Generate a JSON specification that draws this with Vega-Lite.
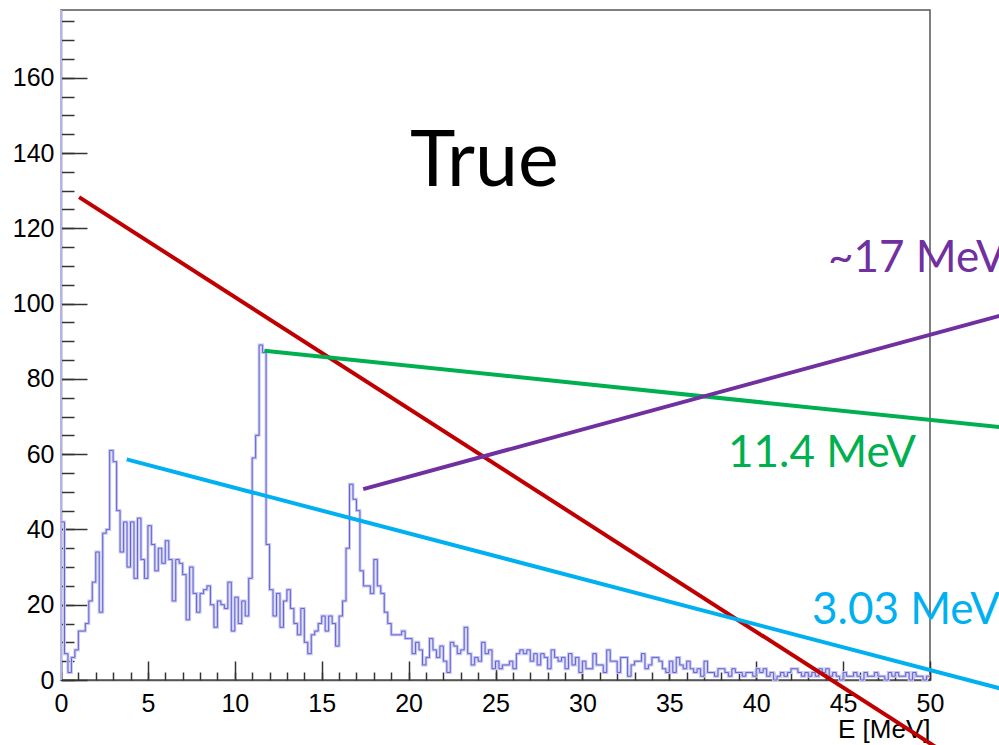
{
  "$schema": "https://vega.github.io/schema/vega-lite/v6.json",
  "autosize": {"type": "none"},
  "width": 869,
  "height": 670,
  "padding": {"left": 61, "top": 10, "right": 69, "bottom": 65},
  "background": "white",
  "config": {
    "view": {"stroke": "#555555", "strokeWidth": 1.5},
    "axis": {"grid": false}
  },
  "datasets": {
    "hist": [
      {"E":0,"n":42},{"E":0.2,"n":7},{"E":0.4,"n":2},{"E":0.6,"n":6},{"E":0.8,"n":8},{"E":1,"n":13},{"E":1.2,"n":13},{"E":1.4,"n":15},{"E":1.6,"n":21},{"E":1.8,"n":26},
      {"E":2,"n":34},{"E":2.2,"n":18},{"E":2.4,"n":39},{"E":2.6,"n":40},{"E":2.8,"n":61},{"E":3,"n":58},{"E":3.2,"n":45},{"E":3.4,"n":34},{"E":3.6,"n":42},{"E":3.8,"n":30},
      {"E":4,"n":42},{"E":4.2,"n":27},{"E":4.4,"n":43},{"E":4.6,"n":32},{"E":4.8,"n":27},{"E":5,"n":41},{"E":5.2,"n":36},{"E":5.4,"n":29},{"E":5.6,"n":35},{"E":5.8,"n":31},
      {"E":6,"n":37},{"E":6.2,"n":32},{"E":6.4,"n":21},{"E":6.6,"n":32},{"E":6.8,"n":31},{"E":7,"n":28},{"E":7.2,"n":16},{"E":7.4,"n":30},{"E":7.6,"n":23},{"E":7.8,"n":18},
      {"E":8,"n":23},{"E":8.2,"n":24},{"E":8.4,"n":25},{"E":8.6,"n":20},{"E":8.8,"n":14},{"E":9,"n":21},{"E":9.2,"n":20},{"E":9.4,"n":19},{"E":9.6,"n":26},{"E":9.8,"n":13},
      {"E":10,"n":22},{"E":10.2,"n":15},{"E":10.4,"n":21},{"E":10.6,"n":17},{"E":10.8,"n":27},{"E":11,"n":59},{"E":11.2,"n":65},{"E":11.4,"n":89},{"E":11.6,"n":87},{"E":11.8,"n":36},
      {"E":12,"n":24},{"E":12.2,"n":17},{"E":12.4,"n":23},{"E":12.6,"n":14},{"E":12.8,"n":21},{"E":13,"n":24},{"E":13.2,"n":19},{"E":13.4,"n":15},{"E":13.6,"n":12},{"E":13.8,"n":19},
      {"E":14,"n":10},{"E":14.2,"n":7},{"E":14.4,"n":12},{"E":14.6,"n":13},{"E":14.8,"n":15},{"E":15,"n":17},{"E":15.2,"n":13},{"E":15.4,"n":17},{"E":15.6,"n":15},{"E":15.8,"n":9},
      {"E":16,"n":17},{"E":16.2,"n":21},{"E":16.4,"n":35},{"E":16.6,"n":52},{"E":16.8,"n":48},{"E":17,"n":45},{"E":17.2,"n":29},{"E":17.4,"n":25},{"E":17.6,"n":25},{"E":17.8,"n":23},
      {"E":18,"n":32},{"E":18.2,"n":25},{"E":18.4,"n":23},{"E":18.6,"n":18},{"E":18.8,"n":15},{"E":19,"n":12},{"E":19.2,"n":12},{"E":19.4,"n":12},{"E":19.6,"n":13},{"E":19.8,"n":11},
      {"E":20,"n":11},{"E":20.2,"n":7},{"E":20.4,"n":10},{"E":20.6,"n":8},{"E":20.8,"n":4},{"E":21,"n":6},{"E":21.2,"n":11},{"E":21.4,"n":8},{"E":21.6,"n":6},{"E":21.8,"n":9},
      {"E":22,"n":5},{"E":22.2,"n":2},{"E":22.4,"n":10},{"E":22.6,"n":9},{"E":22.8,"n":7},{"E":23,"n":8},{"E":23.2,"n":14},{"E":23.4,"n":7},{"E":23.6,"n":4},{"E":23.8,"n":6},
      {"E":24,"n":5},{"E":24.2,"n":10},{"E":24.4,"n":7},{"E":24.6,"n":8},{"E":24.8,"n":3},{"E":25,"n":5},{"E":25.2,"n":3},{"E":25.4,"n":4},{"E":25.6,"n":4},{"E":25.8,"n":5},
      {"E":26,"n":3},{"E":26.2,"n":7},{"E":26.4,"n":8},{"E":26.6,"n":7},{"E":26.8,"n":8},{"E":27,"n":5},{"E":27.2,"n":7},{"E":27.4,"n":4},{"E":27.6,"n":7},{"E":27.8,"n":6},
      {"E":28,"n":3},{"E":28.2,"n":8},{"E":28.4,"n":6},{"E":28.6,"n":5},{"E":28.8,"n":6},{"E":29,"n":3},{"E":29.2,"n":7},{"E":29.4,"n":4},{"E":29.6,"n":6},{"E":29.8,"n":2},
      {"E":30,"n":5},{"E":30.2,"n":3},{"E":30.4,"n":3},{"E":30.6,"n":7},{"E":30.8,"n":4},{"E":31,"n":4},{"E":31.2,"n":2},{"E":31.4,"n":8},{"E":31.6,"n":5},{"E":31.8,"n":5},
      {"E":32,"n":2},{"E":32.2,"n":6},{"E":32.4,"n":6},{"E":32.6,"n":1},{"E":32.8,"n":4},{"E":33,"n":5},{"E":33.2,"n":5},{"E":33.4,"n":7},{"E":33.6,"n":3},{"E":33.8,"n":4},
      {"E":34,"n":6},{"E":34.2,"n":6},{"E":34.4,"n":5},{"E":34.6,"n":3},{"E":34.8,"n":2},{"E":35,"n":5},{"E":35.2,"n":2},{"E":35.4,"n":6},{"E":35.6,"n":4},{"E":35.8,"n":3},
      {"E":36,"n":5},{"E":36.2,"n":3},{"E":36.4,"n":2},{"E":36.6,"n":3},{"E":36.8,"n":1},{"E":37,"n":5},{"E":37.2,"n":2},{"E":37.4,"n":2},{"E":37.6,"n":1},{"E":37.8,"n":3},
      {"E":38,"n":3},{"E":38.2,"n":2},{"E":38.4,"n":1},{"E":38.6,"n":3},{"E":38.8,"n":2},{"E":39,"n":2},{"E":39.2,"n":1},{"E":39.4,"n":2},{"E":39.6,"n":2},{"E":39.8,"n":1},
      {"E":40,"n":3},{"E":40.2,"n":2},{"E":40.4,"n":3},{"E":40.6,"n":1},{"E":40.8,"n":2},{"E":41,"n":0},{"E":41.2,"n":1},{"E":41.4,"n":2},{"E":41.6,"n":1},{"E":41.8,"n":2},
      {"E":42,"n":3},{"E":42.2,"n":3},{"E":42.4,"n":2},{"E":42.6,"n":1},{"E":42.8,"n":2},{"E":43,"n":1},{"E":43.2,"n":2},{"E":43.4,"n":1},{"E":43.6,"n":3},{"E":43.8,"n":2},
      {"E":44,"n":3},{"E":44.2,"n":1},{"E":44.4,"n":2},{"E":44.6,"n":1},{"E":44.8,"n":0},{"E":45,"n":2},{"E":45.2,"n":1},{"E":45.4,"n":1},{"E":45.6,"n":2},{"E":45.8,"n":1},
      {"E":46,"n":0},{"E":46.2,"n":2},{"E":46.4,"n":1},{"E":46.6,"n":1},{"E":46.8,"n":2},{"E":47,"n":1},{"E":47.2,"n":1},{"E":47.4,"n":0},{"E":47.6,"n":2},{"E":47.8,"n":1},
      {"E":48,"n":2},{"E":48.2,"n":1},{"E":48.4,"n":1},{"E":48.6,"n":2},{"E":48.8,"n":0},{"E":49,"n":2},{"E":49.2,"n":1},{"E":49.4,"n":1},{"E":49.6,"n":0},{"E":49.8,"n":1},
      {"E":50,"n":1}
    ],
    "guides": [
      {"peak":"strike","x":1.04,"y":128.3,"x2":50.6,"y2":-18.6},
      {"peak":"11.4 MeV","x":11.7,"y":87.5,"x2":55,"y2":66.7},
      {"peak":"~17 MeV","x":17.39,"y":50.7,"x2":55,"y2":98.0},
      {"peak":"3.03 MeV","x":3.78,"y":58.6,"x2":55,"y2":-3.4}
    ],
    "peakLabels": [
      {"peak":"~17 MeV","x":44.13,"y":108.5},
      {"peak":"11.4 MeV","x":38.38,"y":56.6},
      {"peak":"3.03 MeV","x":43.21,"y":14.8}
    ],
    "heading": [
      {"text":"True","x":20.08,"y":131.2}
    ]
  },
  "resolve": {"axis": {"x": "independent", "y": "independent"}},
  "layer": [
    {
      "data": {"name": "hist"},
      "mark": {"type": "rule", "color": "#b4b4ec", "strokeWidth": 1.2},
      "encoding": {
        "x": {"datum": 0, "type": "quantitative", "scale": {"domain": [0, 50], "nice": false, "zero": false}, "axis": null}
      }
    },
    {
      "data": {"name": "hist"},
      "mark": {"type": "line", "interpolate": "step-after", "color": "#c8c8f2", "strokeWidth": 3},
      "encoding": {
        "x": {"field": "E", "type": "quantitative", "scale": {"domain": [0, 50], "nice": false, "zero": false}, "axis": null},
        "y": {"field": "n", "type": "quantitative", "scale": {"domain": [0, 178], "nice": false}, "axis": null}
      }
    },
    {
      "data": {"name": "hist"},
      "mark": {"type": "line", "interpolate": "step-after", "color": "#6464d2", "strokeWidth": 1},
      "encoding": {
        "x": {
          "field": "E", "type": "quantitative",
          "scale": {"domain": [0, 50], "nice": false, "zero": false},
          "axis": {
            "orient": "bottom",
            "values": [0, 5, 10, 15, 20, 25, 30, 35, 40, 45, 50],
            "tickSize": -19, "tickColor": "#333333", "tickWidth": 1.5,
            "domainColor": "#555555", "domainWidth": 1.5,
            "labelFont": "Liberation Sans", "labelFontSize": 25, "labelColor": "#000000",
            "labelPadding": 30, "labelFlush": false, "labelOverlap": false,
            "title": "E [MeV]", "titleFont": "Liberation Sans", "titleFontSize": 26,
            "titleFontWeight": "normal", "titleColor": "#000000",
            "titleAnchor": "end", "titleAlign": "right", "titleBaseline": "alphabetic",
            "titleX": 869, "titleY": 57
          }
        },
        "y": {
          "field": "n", "type": "quantitative",
          "scale": {"domain": [0, 178], "nice": false},
          "axis": {
            "orient": "left",
            "values": [0, 20, 40, 60, 80, 100, 120, 140, 160],
            "tickSize": -26, "tickColor": "#333333", "tickWidth": 1.5,
            "domainColor": "#555555", "domainWidth": 1.5,
            "labelFont": "Liberation Sans", "labelFontSize": 25, "labelColor": "#000000",
            "labelPadding": 33, "labelFlush": false, "labelOverlap": false,
            "title": null
          }
        }
      }
    },
    {
      "data": {"name": "guides"},
      "mark": {"type": "rule", "strokeWidth": 4, "strokeCap": "butt"},
      "encoding": {
        "x": {
          "field": "x", "type": "quantitative",
          "scale": {"domain": [0, 50], "nice": false, "zero": false},
          "axis": {
            "orient": "bottom",
            "values": [0,1,2,3,4,5,6,7,8,9,10,11,12,13,14,15,16,17,18,19,20,21,22,23,24,25,26,27,28,29,30,31,32,33,34,35,36,37,38,39,40,41,42,43,44,45,46,47,48,49,50],
            "tickSize": -8, "tickColor": "#333333", "tickWidth": 1.5,
            "domain": false, "labels": false, "title": null
          }
        },
        "y": {
          "field": "y", "type": "quantitative",
          "scale": {"domain": [0, 178], "nice": false},
          "axis": {
            "orient": "left",
            "values": [0,5,10,15,20,25,30,35,40,45,50,55,60,65,70,75,80,85,90,95,100,105,110,115,120,125,130,135,140,145,150,155,160,165,170,175],
            "tickSize": -13, "tickColor": "#333333", "tickWidth": 1.5,
            "domain": false, "labels": false, "title": null
          }
        },
        "x2": {"field": "x2"},
        "y2": {"field": "y2"},
        "color": {
          "field": "peak", "type": "nominal",
          "scale": {"domain": ["strike", "11.4 MeV", "~17 MeV", "3.03 MeV"], "range": ["#c00000", "#00b050", "#7030a0", "#00b0f0"]},
          "legend": null
        }
      }
    },
    {
      "data": {"name": "peakLabels"},
      "mark": {"type": "text", "font": "Lato", "fontSize": 44, "align": "left", "baseline": "alphabetic"},
      "encoding": {
        "x": {"field": "x", "type": "quantitative", "scale": {"domain": [0, 50], "nice": false, "zero": false}, "axis": null},
        "y": {"field": "y", "type": "quantitative", "scale": {"domain": [0, 178], "nice": false}, "axis": null},
        "text": {"field": "peak"},
        "color": {
          "field": "peak", "type": "nominal",
          "scale": {"domain": ["strike", "11.4 MeV", "~17 MeV", "3.03 MeV"], "range": ["#c00000", "#00b050", "#7030a0", "#00b0f0"]},
          "legend": null
        }
      }
    },
    {
      "data": {"name": "heading"},
      "mark": {"type": "text", "font": "Lato", "fontSize": 77, "align": "left", "baseline": "alphabetic", "color": "#000000"},
      "encoding": {
        "x": {"field": "x", "type": "quantitative", "scale": {"domain": [0, 50], "nice": false, "zero": false}, "axis": null},
        "y": {"field": "y", "type": "quantitative", "scale": {"domain": [0, 178], "nice": false}, "axis": null},
        "text": {"field": "text"}
      }
    }
  ]
}
